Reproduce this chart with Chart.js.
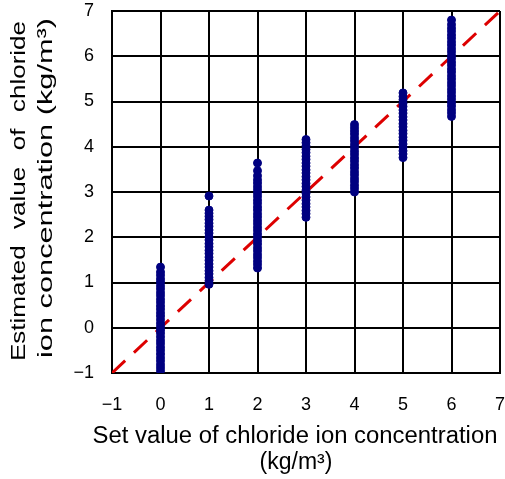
<!DOCTYPE html>
<html>
<head>
<meta charset="utf-8">
<script src="https://cdn.jsdelivr.net/npm/chart.js@4/dist/chart.umd.min.js"></script>
<style>
  html, body { margin: 0; padding: 0; background: #fff; }
</style>
</head>
<body>
<canvas id="chart" width="505" height="479"></canvas>
<script>
// Set values (x) and the estimated values
const setValues = [0, 1, 2, 3, 4, 5, 6];
const est0 = [-0.95, -0.88, -0.81, -0.73, -0.66, -0.58, -0.5, -0.43, -0.35, -0.28, -0.2, -0.12, -0.05, 0.03, 0.1, 0.18, 0.26, 0.33, 0.41, 0.48, 0.56, 0.63, 0.71, 0.78, 0.86, 0.93, 1.01, 1.08, 1.16, 1.23, 1.34];
const est1 = [0.96, 1.04, 1.11, 1.19, 1.26, 1.34, 1.41, 1.49, 1.56, 1.64, 1.71, 1.79, 1.86, 1.94, 2.01, 2.09, 2.16, 2.24, 2.31, 2.39, 2.46, 2.53, 2.6, 2.91];
const est2 = [1.32, 1.4, 1.47, 1.55, 1.62, 1.7, 1.77, 1.85, 1.92, 2.0, 2.07, 2.15, 2.22, 2.3, 2.37, 2.45, 2.52, 2.6, 2.67, 2.75, 2.82, 2.9, 2.97, 3.05, 3.12, 3.2, 3.27, 3.36, 3.47, 3.64];
const est3 = [2.44, 2.52, 2.59, 2.67, 2.74, 2.82, 2.89, 2.97, 3.04, 3.12, 3.19, 3.27, 3.34, 3.42, 3.49, 3.57, 3.64, 3.72, 3.79, 3.87, 3.94, 4.02, 4.09, 4.16];
const est4 = [3.0, 3.08, 3.15, 3.23, 3.3, 3.38, 3.45, 3.53, 3.6, 3.68, 3.75, 3.83, 3.9, 3.98, 4.05, 4.13, 4.2, 4.28, 4.35, 4.42, 4.49];
const est5 = [3.76, 3.84, 3.91, 3.99, 4.06, 4.14, 4.21, 4.29, 4.36, 4.44, 4.51, 4.59, 4.66, 4.74, 4.81, 4.89, 4.96, 5.04, 5.11, 5.19];
const est6 = [4.67, 4.75, 4.82, 4.9, 4.97, 5.05, 5.12, 5.2, 5.27, 5.35, 5.42, 5.5, 5.57, 5.65, 5.72, 5.8, 5.87, 5.95, 6.02, 6.1, 6.17, 6.25, 6.32, 6.4, 6.47, 6.55, 6.62, 6.7, 6.8];
const estimated = [est0, est1, est2, est3, est4, est5, est6];

// 1:1 reference line ends
const refLineX = [-1, 7];
const refLineY = [-1, 7];

const axisMin = -1;
const axisMax = 7;

const xTitle = ['Set value of chloride ion concentration', '(kg/m\u00b3)'];
const yTitle = ['Estimated value of chloride', 'ion concentration (kg/m\u00b3)'];

const points = [];
setValues.forEach((sv, i) => {
    estimated[i].forEach(v => points.push({ x: sv, y: v }));
});
const refLine = refLineX.map((x, i) => ({ x: x, y: refLineY[i] }));

const fontFamily = '"Liberation Sans", Arial, Helvetica, sans-serif';

// draw text stretched to a given length
function drawFitted(ctx, text, cx, cy, length) {
    const w = ctx.measureText(text).width;
    const sx = length ? length / w : 1;
    ctx.save();
    ctx.translate(cx, cy);
    ctx.scale(sx, 1);
    ctx.fillText(text, 0, 0);
    ctx.restore();
}

// axis titles (the y one is spread out like the original)
const axisTitles = {
    id: 'axisTitles',
    afterDraw(chart) {
        const ctx = chart.ctx;
        ctx.save();
        ctx.fillStyle = '#000';
        ctx.textAlign = 'center';
        ctx.textBaseline = 'middle';

        ctx.font = '23px ' + fontFamily;
        drawFitted(ctx, xTitle[0], 295, 437, 405);
        drawFitted(ctx, xTitle[1], 296, 463, null);

        ctx.font = '20px ' + fontFamily;
        // line 1: justified words
        ctx.save();
        ctx.translate(19, 191);
        ctx.rotate(-Math.PI / 2);
        const words = yTitle[0].split(' ');
        const s = 1.3;
        const L = 340;
        const widths = words.map(w => ctx.measureText(w).width * s);
        const total = widths.reduce((a, b) => a + b, 0);
        const gap = (L - total) / (words.length - 1);
        let pos = -L / 2;
        ctx.textAlign = 'left';
        words.forEach((w, i) => {
            ctx.save();
            ctx.translate(pos, 0);
            ctx.scale(s, 1);
            ctx.fillText(w, 0, 0);
            ctx.restore();
            pos += widths[i] + gap;
        });
        ctx.restore();

        // line 2: stretched
        ctx.save();
        ctx.translate(46, 188);
        ctx.rotate(-Math.PI / 2);
        drawFitted(ctx, yTitle[1], 0, 0, 340);
        ctx.restore();

        ctx.restore();
    }
};

const tickLabel = v => (v < 0 ? '\u2212' + Math.abs(v) : String(v));

const ctx = document.getElementById('chart').getContext('2d');
const chart = new Chart(ctx, {
    type: 'scatter',
    data: {
        datasets: [{
            label: 'Estimated',
            data: points,
            backgroundColor: '#000080',
            borderColor: '#000080',
            borderWidth: 1,
            pointRadius: 4,
            order: 1
        }, {
            type: 'line',
            label: '1:1',
            data: refLine,
            borderColor: '#dd0000',
            borderWidth: 3,
            borderDash: [18, 12],
            pointRadius: 0,
            fill: false,
            order: 2
        }]
    },
    options: {
        responsive: false,
        animation: false,
        devicePixelRatio: 1,
        layout: { padding: { top: 11, right: 3, bottom: 0, left: 0 } },
        plugins: {
            legend: { display: false },
            tooltip: { enabled: false }
        },
        scales: {
            x: {
                type: 'linear',
                min: axisMin,
                max: axisMax,
                grid: { color: '#000', lineWidth: 2, drawTicks: false },
                border: { color: '#000', width: 2 },
                ticks: {
                    stepSize: 1,
                    padding: 21,
                    color: '#000',
                    font: { family: fontFamily, size: 18 },
                    callback: tickLabel
                },
                afterFit(scale) {
                    scale.height = 106;
                    scale.paddingLeft = 0;
                    scale.paddingRight = 0;
                }
            },
            y: {
                type: 'linear',
                min: axisMin,
                max: axisMax,
                grid: { color: '#000', lineWidth: 2, drawTicks: false },
                border: { color: '#000', width: 2 },
                ticks: {
                    stepSize: 1,
                    padding: 18,
                    color: '#000',
                    font: { family: fontFamily, size: 18 },
                    callback: tickLabel
                },
                afterFit(scale) {
                    scale.width = 112;
                    scale.paddingTop = 0;
                    scale.paddingBottom = 0;
                }
            }
        }
    },
    plugins: [axisTitles]
});
</script>
</body>
</html>
